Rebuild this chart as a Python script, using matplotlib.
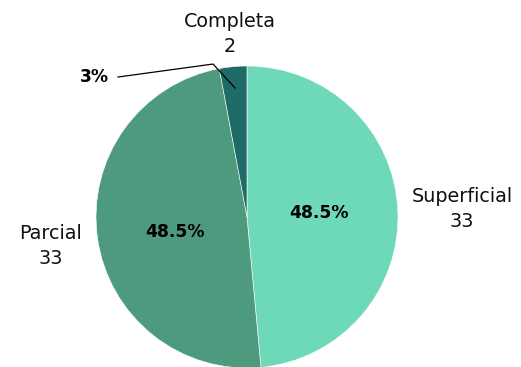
import matplotlib
matplotlib.use("Agg")
import matplotlib.pyplot as plt

categories = ["Superficial", "Parcial", "Completa"]
values = [33, 33, 2]
colors = ["#6dd9b9", "#4e9a7f", "#1f6b68"]

plt.rcParams["font.family"] = ["DejaVu Sans"]

W, H = 521, 367
fig = plt.figure(figsize=(W / 100, H / 100), dpi=100)
cx, cy, r = 247, 217, 151
ax = fig.add_axes([(cx - r) / W, (H - cy - r) / H, 2 * r / W, 2 * r / H])

wedges, _ = ax.pie(values, colors=colors, startangle=90, counterclock=False,
                   radius=1, wedgeprops=dict(edgecolor="white", linewidth=0.4))
ax.set_xlim(-1, 1)
ax.set_ylim(-1, 1)
ax.set_aspect("equal")
ax.axis("off")

total = sum(values)
# shares rounded to the nearest half percent
pct = [f"{round(v / total * 200) / 2:g}%" for v in values]

# category labels with counts
label_pos = [(1.425, 0.053), (-1.30, -0.19), (-0.116, 1.215)]
for name, v, (x, y) in zip(categories, values, label_pos):
    ax.text(x, y, f"{name}\n{v}", ha="center", va="center", fontsize=13.8,
            color="#111111", linespacing=1.4, clip_on=False)

# percentage labels
ax.text(0.477, 0.026, pct[0], ha="center", va="center", fontsize=12.3,
        fontweight="bold", color="black")
ax.text(-0.477, -0.10, pct[1], ha="center", va="center", fontsize=12.3,
        fontweight="bold", color="black")
ax.plot([-0.854, -0.225, -0.079], [0.927, 1.013, 0.854], color="black",
        linewidth=0.9, clip_on=False)
ax.text(-1.01, 0.927, pct[2], ha="center", va="center", fontsize=12.3,
        fontweight="bold", color="black", clip_on=False)

fig.savefig("out.png", dpi=100)
